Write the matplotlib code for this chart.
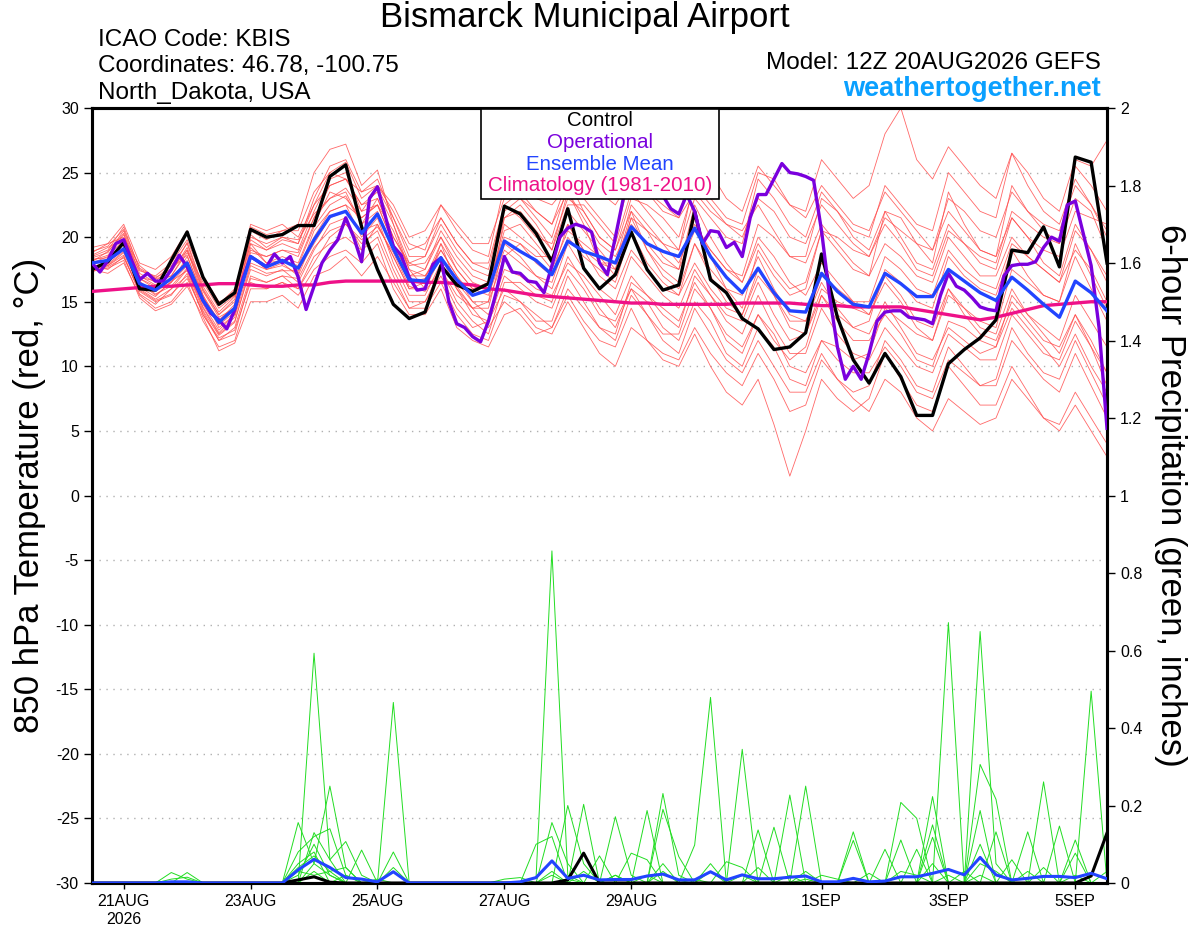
import numpy as np
import pandas as pd
import matplotlib
matplotlib.use("Agg")
from matplotlib import pyplot as plt
from matplotlib.patches import Rectangle

plt.rcParams['font.family'] = ['Liberation Sans', 'DejaVu Sans']
plt.rcParams['axes.unicode_minus'] = False

# ---- data (6-hourly from 12Z 20AUG2026 unless noted) ----
control_t = [17.5, 18.1, 19.6, 16.0, 15.9, 18.2, 20.4, 16.9, 14.8, 15.7, 20.6, 20.0, 20.2,
             20.9, 20.9, 24.7, 25.6, 20.8, 17.5, 14.8, 13.7, 14.2, 17.8, 16.3, 15.8, 16.4,
             22.4, 21.8, 20.3, 18.1, 22.2, 17.6, 16.0, 17.1, 20.4, 17.5, 15.9, 16.3, 22.0,
             16.7, 15.7, 13.7, 12.9, 11.3, 11.5, 12.6, 18.7, 13.8, 10.5, 8.7, 11.0, 9.2,
             6.2, 6.2, 10.2, 11.3, 12.2, 13.6, 19.0, 18.8, 20.8, 17.7, 26.2, 25.8, 18.0]

# operational run is 3-hourly
oper_t = [18.0, 17.3, 18.2, 19.5, 19.8, 18.2, 16.7, 17.2, 16.6, 16.6, 17.5, 18.6, 17.7,
          16.4, 15.1, 14.1, 13.6, 12.9, 14.4, 16.7, 18.5, 18.1, 17.7, 18.7, 18.0, 18.5,
          16.9, 14.4, 16.2, 18.0, 19.0, 19.8, 21.5, 20.0, 18.1, 23.0, 23.9, 21.6, 19.3,
          18.6, 16.9, 15.9, 16.0, 17.9, 18.4, 15.0, 13.3, 13.0, 12.3, 11.9, 13.5, 15.8,
          18.5, 17.3, 17.2, 16.6, 16.5, 15.7, 17.8, 20.0, 20.7, 21.0, 20.8, 20.4, 18.0,
          17.1, 20.0, 23.0, 24.8, 25.5, 25.0, 24.0, 23.2, 22.2, 21.8, 23.3, 22.0, 19.5,
          20.5, 20.4, 19.2, 19.6, 18.5, 21.5, 23.3, 23.3, 24.5, 25.7, 25.0, 24.9, 24.7,
          24.4, 20.5, 15.5, 11.5, 9.0, 10.0, 9.0, 11.0, 13.5, 14.2, 14.3, 14.3, 13.8,
          13.7, 13.6, 13.3, 15.5, 17.2, 16.2, 15.9, 15.3, 14.6, 14.4, 14.3, 17.0, 17.8,
          17.9, 17.9, 18.1, 19.2, 20.0, 19.7, 22.5, 22.8, 20.3, 17.8, 13.0, 5.2]

mean_t = [18.0, 18.2, 19.1, 16.4, 15.9, 16.8, 18.0, 15.1, 13.4, 14.5, 18.5, 17.7, 18.2,
          17.6, 19.8, 21.6, 22.0, 20.3, 21.8, 19.1, 16.7, 16.6, 18.4, 16.7, 15.5, 15.9,
          19.7, 18.9, 18.2, 17.1, 19.7, 18.9, 18.5, 18.0, 20.8, 19.5, 18.9, 18.5, 20.7,
          18.5, 16.9, 15.7, 17.6, 15.7, 14.3, 14.2, 17.2, 15.8, 14.8, 14.6, 17.2, 16.4,
          15.4, 15.4, 17.5, 16.6, 15.7, 15.1, 16.9, 15.9, 14.8, 13.8, 16.6, 15.7, 14.3]

clim_t = [15.8, 15.9, 16.0, 16.1, 16.2, 16.2, 16.3, 16.3, 16.4, 16.4, 16.3, 16.2, 16.2,
          16.3, 16.3, 16.5, 16.6, 16.6, 16.6, 16.6, 16.6, 16.5, 16.5, 16.4, 16.3, 16.0,
          15.9, 15.7, 15.5, 15.4, 15.3, 15.2, 15.1, 15.0, 14.9, 14.9, 14.8, 14.8, 14.8,
          14.8, 14.8, 14.9, 14.9, 14.9, 14.9, 14.8, 14.7, 14.7, 14.6, 14.6, 14.6, 14.6,
          14.4, 14.2, 14.0, 13.8, 13.6, 13.8, 14.1, 14.4, 14.7, 14.8, 14.9, 15.0, 15.0]

member_t = [
    [18.5, 19.0, 20.8, 17.5, 16.8, 17.8, 19.5, 16.0, 14.0, 15.0, 20.8, 20.2, 20.5, 21.0, 25.0, 26.8, 27.2, 24.0, 25.2, 21.0, 17.5, 16.0, 19.5, 16.2, 14.5, 15.0, 21.5, 22.5, 21.0, 19.0, 23.5, 21.0, 18.0, 17.5, 22.0, 19.0, 17.5, 16.5, 21.5, 18.5, 16.0, 14.5, 19.0, 17.0, 15.5, 16.0, 20.5, 19.0, 17.5, 17.0, 22.0, 21.5, 19.5, 18.0, 23.5, 21.0, 19.0, 18.5, 24.0, 22.0, 20.5, 19.5, 25.5, 24.0, 22.0],
    [17.8, 17.5, 18.5, 15.8, 15.0, 15.5, 17.2, 14.0, 12.0, 13.0, 17.0, 16.5, 17.0, 16.0, 18.0, 20.0, 21.0, 19.5, 20.5, 17.5, 15.0, 15.0, 17.0, 14.5, 13.0, 13.5, 16.0, 15.0, 14.0, 13.0, 15.5, 13.5, 12.0, 11.5, 14.5, 12.0, 11.0, 10.5, 13.0, 11.0, 9.5, 8.5, 11.0, 9.0, 6.5, 7.0, 10.5, 9.0, 8.0, 8.5, 12.0, 10.5, 8.5, 8.0, 11.5, 10.0, 8.5, 9.0, 13.0, 11.0, 9.5, 9.0, 12.0, 9.5, 7.0],
    [18.2, 18.6, 20.2, 16.8, 16.0, 17.5, 19.0, 15.5, 13.0, 14.0, 19.0, 18.5, 19.0, 18.8, 21.5, 24.0, 24.5, 22.5, 23.5, 21.0, 18.0, 17.5, 20.5, 18.5, 17.0, 16.5, 22.0, 23.0, 21.5, 20.0, 24.0, 23.0, 21.5, 20.0, 25.0, 23.5, 22.0, 21.5, 26.5, 25.0, 23.0, 22.0, 25.5, 24.0, 22.5, 22.0, 26.0, 24.5, 23.0, 24.0, 28.0, 30.0, 26.0, 24.5, 27.0, 25.5, 24.0, 23.0, 26.5, 25.0, 23.0, 22.0, 26.0, 25.5, 27.5],
    [17.5, 17.2, 18.0, 15.5, 14.5, 15.0, 16.5, 13.5, 11.5, 12.0, 16.0, 16.0, 16.5, 15.5, 17.5, 18.5, 19.0, 18.0, 19.5, 16.0, 14.0, 14.0, 16.0, 13.0, 12.0, 11.5, 14.0, 14.5, 13.0, 12.5, 15.0, 13.0, 11.0, 10.0, 13.0, 12.0, 10.5, 10.0, 12.5, 10.0, 8.0, 7.0, 9.0, 5.5, 1.5, 5.0, 9.0, 7.5, 6.5, 7.5, 11.0, 9.0, 7.0, 6.5, 10.0, 8.5, 7.0, 7.0, 10.0, 8.0, 6.0, 5.5, 8.0, 6.0, 4.0],
    [18.8, 19.5, 21.0, 18.0, 17.5, 18.5, 20.5, 17.0, 15.0, 15.5, 21.0, 20.5, 21.0, 20.0, 22.5, 25.0, 25.8, 23.0, 24.0, 22.0, 19.5, 19.0, 22.5, 20.5, 19.0, 18.5, 24.0, 23.0, 22.0, 21.0, 23.5, 21.5, 19.5, 18.5, 21.0, 19.5, 18.0, 17.5, 20.5, 19.0, 17.5, 17.0, 21.0, 20.0, 18.5, 18.5, 23.0, 22.0, 20.5, 20.0, 24.0, 22.5, 21.0, 20.5, 25.0, 23.5, 22.0, 21.5, 26.5, 24.0, 22.0, 21.0, 24.5, 22.5, 20.0],
    [17.6, 18.0, 19.2, 16.2, 15.8, 16.5, 17.8, 14.8, 12.8, 14.0, 18.5, 17.5, 18.0, 17.0, 20.0, 22.0, 22.5, 20.0, 21.5, 18.0, 15.5, 15.5, 18.0, 16.0, 14.5, 14.5, 19.5, 18.5, 17.0, 16.0, 19.5, 17.5, 16.0, 15.0, 18.5, 17.0, 15.5, 14.5, 17.5, 15.5, 13.5, 12.5, 15.5, 13.0, 11.0, 11.0, 14.5, 12.5, 11.0, 10.5, 13.0, 11.5, 10.0, 9.5, 12.5, 11.5, 10.5, 10.5, 14.0, 12.5, 11.0, 10.5, 13.5, 11.5, 9.5],
    [18.0, 18.5, 19.8, 16.5, 15.5, 16.5, 18.5, 15.5, 13.5, 14.8, 19.5, 18.0, 18.5, 18.0, 21.0, 23.5, 23.0, 21.5, 22.5, 20.5, 17.5, 17.0, 19.0, 17.0, 15.5, 16.0, 20.5, 21.0, 19.5, 18.0, 22.0, 20.5, 19.0, 17.5, 21.5, 19.0, 17.0, 16.0, 19.5, 17.5, 16.0, 15.5, 18.5, 16.0, 14.0, 13.5, 17.0, 16.0, 15.0, 15.0, 18.5, 17.5, 16.0, 15.5, 19.0, 17.5, 16.5, 16.0, 19.5, 18.5, 17.5, 16.5, 20.5, 19.0, 16.5],
    [17.3, 17.8, 18.8, 16.0, 15.2, 16.0, 17.5, 14.5, 12.5, 13.5, 17.5, 17.0, 17.5, 16.5, 19.0, 21.0, 21.5, 19.0, 20.0, 17.0, 14.5, 14.5, 16.5, 14.0, 12.5, 12.0, 15.5, 15.0, 13.5, 13.5, 17.0, 15.0, 13.0, 12.0, 15.5, 14.0, 12.5, 12.5, 16.0, 14.5, 12.5, 11.5, 14.0, 12.0, 10.5, 11.5, 15.5, 14.0, 13.0, 13.5, 17.5, 16.5, 15.0, 14.5, 18.5, 17.0, 16.0, 15.5, 19.0, 17.0, 15.5, 15.0, 18.5, 16.0, 13.5],
    [18.4, 18.8, 20.5, 17.2, 16.5, 17.0, 19.0, 15.8, 13.8, 14.5, 20.0, 19.5, 20.0, 19.5, 23.0, 25.5, 26.0, 23.5, 24.5, 21.5, 18.5, 18.5, 21.0, 19.0, 17.5, 17.0, 21.5, 22.0, 20.5, 19.0, 22.5, 22.5, 21.0, 19.5, 23.5, 22.0, 20.5, 19.0, 23.0, 21.5, 20.0, 19.5, 24.5, 23.0, 21.0, 20.0, 23.5, 22.0, 20.0, 19.0, 22.0, 20.0, 18.0, 17.5, 21.0, 19.5, 18.0, 17.5, 21.5, 20.0, 18.0, 17.0, 21.0, 19.0, 17.0],
    [17.7, 17.8, 18.6, 15.6, 14.8, 16.0, 17.0, 14.0, 12.2, 12.8, 16.5, 16.0, 16.5, 16.0, 18.5, 19.5, 20.0, 19.0, 21.0, 18.5, 16.0, 16.0, 18.5, 16.5, 15.0, 14.0, 17.5, 17.0, 16.0, 15.5, 18.0, 17.0, 15.5, 14.0, 17.0, 15.5, 14.5, 13.5, 16.5, 14.5, 12.0, 11.0, 14.0, 12.5, 10.0, 9.5, 12.0, 10.5, 9.5, 9.5, 11.5, 10.0, 8.0, 7.5, 10.5, 9.5, 8.5, 8.5, 12.0, 10.5, 9.0, 8.0, 11.0, 8.5, 6.0],
    [19.2, 19.5, 20.0, 17.8, 16.8, 17.0, 18.8, 16.5, 14.5, 15.5, 19.8, 19.0, 19.5, 19.0, 22.0, 24.5, 25.0, 22.0, 22.5, 19.5, 17.0, 17.5, 20.0, 17.5, 16.0, 16.5, 20.0, 19.5, 18.5, 18.5, 21.0, 19.0, 18.0, 18.0, 22.5, 21.0, 19.5, 19.0, 24.5, 23.0, 21.5, 21.0, 25.0, 24.5, 22.5, 21.5, 24.0, 22.5, 21.0, 20.5, 23.5, 22.0, 20.5, 19.0, 22.0, 20.5, 19.0, 18.5, 21.5, 20.0, 19.0, 18.5, 22.0, 21.5, 21.0],
    [17.9, 18.3, 19.5, 16.8, 16.2, 16.8, 18.2, 15.2, 13.2, 14.2, 18.8, 18.5, 19.0, 18.5, 21.5, 23.0, 23.5, 21.0, 22.0, 19.0, 16.5, 16.8, 19.5, 17.5, 16.0, 15.5, 19.0, 18.0, 17.0, 16.5, 20.0, 18.5, 17.5, 16.5, 20.5, 18.0, 16.5, 15.5, 18.0, 16.0, 14.5, 14.0, 17.5, 15.5, 13.5, 13.5, 16.5, 14.5, 13.0, 12.5, 15.0, 13.0, 11.0, 10.5, 13.0, 12.0, 11.0, 11.5, 15.5, 14.0, 13.0, 12.0, 15.5, 13.5, 11.5],
    [18.1, 18.9, 20.3, 17.0, 16.3, 17.3, 19.2, 15.9, 14.0, 15.2, 19.5, 19.0, 19.8, 19.5, 22.5, 24.0, 24.5, 22.5, 23.0, 20.0, 18.0, 18.5, 21.5, 19.5, 18.0, 17.5, 22.5, 23.5, 22.0, 21.0, 24.5, 22.0, 20.0, 19.0, 22.0, 20.5, 19.5, 18.0, 21.0, 19.0, 17.5, 16.5, 19.5, 17.5, 16.0, 16.5, 20.5, 20.0, 19.0, 18.5, 21.0, 19.5, 17.5, 17.0, 20.5, 19.5, 18.5, 18.0, 22.0, 21.0, 20.0, 19.5, 23.0, 22.0, 19.0],
    [17.4, 17.6, 18.2, 15.3, 14.3, 14.8, 16.2, 13.8, 11.2, 11.8, 15.0, 15.0, 15.5, 14.5, 17.0, 17.5, 18.5, 17.0, 18.5, 16.5, 14.5, 15.0, 17.5, 15.5, 14.5, 13.0, 15.0, 14.0, 12.5, 13.0, 16.0, 14.5, 13.0, 12.5, 16.5, 15.5, 14.0, 13.0, 17.0, 15.5, 14.0, 13.5, 16.5, 14.0, 12.0, 12.5, 16.0, 15.0, 14.5, 14.0, 17.0, 15.5, 13.5, 13.0, 16.0, 14.0, 12.5, 12.0, 15.0, 13.5, 12.0, 11.5, 14.0, 12.0, 9.5],
    [18.6, 19.2, 19.9, 17.4, 17.0, 18.0, 19.8, 16.8, 14.8, 16.0, 20.5, 19.8, 20.5, 20.5, 23.5, 25.0, 24.5, 23.5, 24.0, 22.5, 20.0, 20.5, 22.5, 21.0, 19.5, 19.5, 23.0, 24.0, 23.0, 22.5, 24.0, 24.5, 23.5, 22.5, 24.5, 23.5, 22.5, 21.5, 23.5, 22.0, 21.0, 20.5, 22.5, 20.5, 18.5, 18.0, 21.0, 19.5, 18.0, 17.0, 19.5, 18.5, 17.0, 16.5, 20.0, 18.5, 17.0, 17.0, 20.0, 18.5, 17.5, 16.5, 19.0, 17.5, 15.0],
    [17.7, 18.1, 19.0, 16.6, 15.6, 16.2, 17.6, 14.6, 12.6, 13.8, 18.0, 17.5, 17.8, 17.2, 20.5, 22.0, 22.5, 21.5, 22.5, 19.5, 17.0, 17.0, 18.5, 16.0, 14.0, 13.5, 17.0, 16.0, 15.0, 14.5, 17.5, 16.0, 14.0, 13.5, 16.0, 14.0, 12.0, 11.0, 14.5, 12.5, 10.5, 9.5, 12.0, 10.0, 8.0, 8.0, 11.0, 9.0, 7.5, 6.5, 9.0, 8.0, 6.0, 5.0, 7.5, 6.5, 5.5, 6.0, 9.0, 7.5, 6.0, 5.0, 7.0, 5.0, 3.0],
    [18.3, 18.4, 19.4, 16.9, 16.6, 17.6, 18.6, 15.3, 13.6, 14.6, 19.2, 18.0, 18.2, 17.8, 20.8, 22.5, 23.2, 21.0, 23.0, 20.0, 17.8, 18.0, 20.0, 18.0, 16.5, 16.0, 21.0, 20.0, 19.0, 17.5, 20.5, 19.5, 18.5, 17.0, 21.5, 20.5, 18.5, 17.5, 22.5, 20.0, 18.0, 16.5, 20.0, 18.5, 16.5, 15.5, 18.0, 16.5, 15.0, 14.0, 16.5, 15.0, 13.0, 12.0, 15.5, 14.5, 13.5, 13.0, 17.5, 16.5, 15.5, 15.0, 19.5, 17.0, 14.5],
    [17.6, 17.9, 18.9, 16.1, 15.4, 16.6, 17.4, 14.3, 12.4, 13.4, 17.8, 17.2, 17.4, 17.4, 19.5, 21.5, 22.0, 20.5, 21.0, 18.5, 16.0, 16.5, 19.0, 17.0, 15.0, 15.0, 18.5, 19.5, 18.0, 17.0, 21.0, 19.0, 17.0, 16.0, 19.0, 17.5, 16.0, 15.5, 19.5, 17.0, 15.0, 14.0, 17.0, 15.5, 13.0, 12.5, 15.5, 13.5, 12.0, 12.0, 14.0, 12.5, 10.5, 10.0, 13.5, 13.0, 12.0, 11.5, 14.5, 13.0, 11.5, 10.0, 12.5, 10.0, 8.0],
    [18.9, 19.3, 20.6, 17.6, 16.9, 17.4, 19.6, 16.2, 14.2, 15.4, 20.2, 19.2, 20.0, 19.8, 21.8, 23.0, 23.8, 22.0, 23.8, 21.5, 19.0, 19.5, 21.5, 19.5, 18.0, 18.0, 22.5, 21.5, 20.0, 19.5, 23.0, 22.0, 20.0, 19.0, 23.0, 22.5, 21.5, 20.0, 24.0, 22.5, 21.0, 20.0, 23.0, 22.0, 20.0, 19.5, 22.5, 21.0, 19.5, 18.5, 21.5, 20.5, 19.5, 19.0, 23.0, 22.0, 20.5, 20.0, 23.5, 22.0, 21.0, 20.5, 24.0, 22.5, 20.5],
    [17.5, 17.7, 18.4, 15.9, 15.1, 15.6, 16.8, 14.2, 12.0, 12.5, 16.8, 16.5, 17.0, 16.8, 19.2, 20.5, 21.0, 19.8, 20.8, 18.8, 16.2, 15.8, 17.5, 15.0, 13.5, 12.5, 16.5, 16.5, 15.5, 15.0, 18.5, 16.5, 14.5, 13.0, 16.0, 15.0, 13.0, 12.0, 15.0, 13.5, 11.0, 10.0, 13.0, 11.5, 9.0, 8.5, 12.0, 11.5, 10.5, 11.0, 14.5, 13.5, 12.5, 12.0, 16.0, 14.5, 13.0, 12.5, 16.0, 14.0, 12.5, 11.0, 14.0, 11.5, 8.5],
]

# 6-hour precipitation (inches); members given as {step: amount}, other steps are 0
control_p = {13: 0.008, 14: 0.016, 15: 0.002, 30: 0.008, 31: 0.077, 63: 0.018, 64: 0.129}
mean_p = {5: 0.003, 6: 0.003, 13: 0.034, 14: 0.061, 15: 0.04, 16: 0.014, 17: 0.01, 18: 0.003,
          19: 0.029, 27: 0.003, 28: 0.014, 29: 0.057, 30: 0.012, 31: 0.02, 32: 0.008,
          33: 0.009, 34: 0.009, 35: 0.018, 36: 0.023, 37: 0.008, 38: 0.008, 39: 0.029,
          40: 0.008, 41: 0.021, 42: 0.011, 43: 0.011, 44: 0.015, 45: 0.018, 46: 0.003,
          47: 0.003, 48: 0.012, 49: 0.003, 50: 0.005, 51: 0.016, 52: 0.016, 53: 0.025,
          54: 0.035, 55: 0.021, 56: 0.066, 57: 0.021, 58: 0.008, 59: 0.012, 60: 0.017,
          61: 0.017, 62: 0.014, 63: 0.025, 64: 0.011}
member_p = [
    {14: 0.593, 15: 0.06, 28: 0.014, 29: 0.857, 30: 0.02, 39: 0.05, 54: 0.672, 62: 0.02},
    {13: 0.156, 14: 0.05, 15: 0.25, 16: 0.04, 19: 0.466, 33: 0.171, 34: 0.02, 41: 0.345, 56: 0.649, 57: 0.05},
    {5: 0.027, 6: 0.01, 13: 0.08, 14: 0.12, 15: 0.14, 16: 0.02, 29: 0.156, 30: 0.05, 36: 0.231,
     37: 0.02, 45: 0.25, 53: 0.223, 56: 0.306, 57: 0.216, 60: 0.261},
    {6: 0.027, 14: 0.13, 15: 0.06, 16: 0.107, 17: 0.02, 28: 0.10, 29: 0.12, 31: 0.203, 35: 0.187,
     44: 0.227, 48: 0.132, 51: 0.208, 52: 0.167, 56: 0.187, 63: 0.495},
    {13: 0.05, 14: 0.08, 17: 0.085, 19: 0.08, 30: 0.2, 31: 0.05, 33: 0.02, 38: 0.098, 39: 0.479,
     42: 0.137, 51: 0.111, 53: 0.118, 59: 0.132, 61: 0.147},
    {13: 0.03, 14: 0.02, 15: 0.03, 16: 0.04, 19: 0.04, 32: 0.07, 36: 0.19, 37: 0.068, 43: 0.144,
     48: 0.11, 50: 0.087, 53: 0.15, 57: 0.132, 62: 0.111},
    {14: 0.05, 15: 0.02, 26: 0.01, 27: 0.014, 29: 0.03, 34: 0.077, 35: 0.06, 40: 0.055, 41: 0.04,
     45: 0.03, 49: 0.025, 52: 0.087, 56: 0.10, 58: 0.06, 62: 0.077},
    {5: 0.01, 6: 0.015, 13: 0.02, 14: 0.1, 15: 0.02, 29: 0.02, 33: 0.02, 36: 0.05, 39: 0.03,
     42: 0.04, 46: 0.02, 47: 0.01, 53: 0.05, 55: 0.03, 64: 0.03},
    {14: 0.03, 16: 0.02, 31: 0.03, 35: 0.02, 38: 0.01, 44: 0.02, 54: 0.02, 56: 0.05, 57: 0.03, 60: 0.04},
    {13: 0.04, 14: 0.07, 15: 0.03, 18: 0.01, 30: 0.01, 36: 0.03, 41: 0.02, 45: 0.01, 51: 0.03,
     52: 0.02, 56: 0.02, 59: 0.03},
]

tick_days = ['2026-08-21', '2026-08-23', '2026-08-25', '2026-08-27', '2026-08-29',
             '2026-09-01', '2026-09-03', '2026-09-05']
tick_labels = ['21AUG\n2026', '23AUG', '25AUG', '27AUG', '29AUG', '1SEP', '3SEP', '5SEP']

times6 = pd.date_range('2026-08-20 12:00', periods=len(control_t), freq='6h')
times3 = pd.date_range('2026-08-20 12:00', periods=len(oper_t), freq='3h')


def sparse_to_series(d):
    vals = np.zeros(len(times6))
    for k, v in d.items():
        vals[k] = v
    return vals


def t2p(t):
    # temperature (-30..30) mapped onto the precip axis (0..2)
    return (np.array(t) + 30) / 30


RED = '#ff4d4d'
GREEN = '#22dd22'
PURPLE = '#7a00dd'
BLUE = '#2244ff'
MAGENTA = '#ee1188'

fig = plt.figure(figsize=(12, 9.27), dpi=100)
ax = fig.add_axes([92 / 1200, 1 - 883 / 927, (1107 - 92) / 1200, (883 - 108) / 927])
ax2 = ax.twinx()

# precipitation on the right axis
for m in member_p:
    ax2.plot(times6, sparse_to_series(m), color=GREEN, lw=0.7, zorder=2)
ax2.plot(times6, sparse_to_series(control_p), color='black', lw=2.2, zorder=3)
ax2.plot(times6, sparse_to_series(mean_p), color=BLUE, lw=2.2, zorder=4)
ax2.set_ylim(0, 2)
ax2.set_yticks(np.arange(0, 2.01, 0.2))
ax2.set_yticklabels(['0', '0.2', '0.4', '0.6', '0.8', '1', '1.2', '1.4', '1.6', '1.8', '2'])

# temperature lines (drawn on the twin axis so they sit above the grid)
for m in member_t:
    ax2.plot(times6, t2p(m), color=RED, lw=0.6, alpha=0.85, zorder=1)
ax2.plot(times6, t2p(clim_t), color=MAGENTA, lw=2.4, zorder=5)
ax2.plot(times6, t2p(control_t), color='black', lw=2.4, zorder=6)
ax2.plot(times3, t2p(oper_t), color=PURPLE, lw=2.4, zorder=7)
ax2.plot(times6, t2p(mean_t), color=BLUE, lw=2.4, zorder=8)

ax.set_ylim(-30, 30)
ax.set_yticks(np.arange(-30, 31, 5))
ax.set_xlim(times6[0], times6[-1])
ax.set_xticks(pd.to_datetime(tick_days))
ax.set_xticklabels(tick_labels)
for y in range(-25, 30, 5):
    ax.axhline(y, color='#b0b0b0', lw=1.0, ls=(0, (1, 4)), zorder=0)

for a in (ax, ax2):
    for s in a.spines.values():
        s.set_linewidth(2.2)
ax.tick_params(axis='y', labelsize=11.5, length=6, width=1)
ax2.tick_params(axis='y', labelsize=11.5, length=6, width=1)
ax.tick_params(axis='x', labelsize=11.5, length=4, width=1, pad=4)
for lbl in ax.get_xticklabels():
    lbl.set_multialignment('center')

# legend box, on top of the lines
ax2.add_patch(Rectangle((481 / 1200, 1 - 199 / 927), 238 / 1200, 90 / 927,
                        transform=fig.transFigure, facecolor='white', clip_on=False,
                        edgecolor='black', lw=1.2, zorder=20))
leg_items = [('Control', 'black'), ('Operational', PURPLE),
             ('Ensemble Mean', BLUE), ('Climatology (1981-2010)', MAGENTA)]
for k, (txt, col) in enumerate(leg_items):
    ax2.text(600 / 1200, 1 - (121 + k * 21.5) / 927, txt, color=col, fontsize=14.8,
             ha='center', va='center', transform=fig.transFigure, zorder=21)

# header texts
fig.text(585 / 1200, 1 - 18 / 927, 'Bismarck Municipal Airport', fontsize=25,
         ha='center', va='center')
fig.text(98 / 1200, 1 - 40 / 927, 'ICAO Code: KBIS', fontsize=17.5, va='center')
fig.text(98 / 1200, 1 - 66 / 927, 'Coordinates: 46.78, -100.75', fontsize=17.5, va='center')
fig.text(98 / 1200, 1 - 93 / 927, 'North_Dakota, USA', fontsize=17.5, va='center')
fig.text(1101 / 1200, 1 - 63 / 927, 'Model: 12Z 20AUG2026 GEFS', fontsize=17.5,
         ha='right', va='center')
fig.text(1101 / 1200, 1 - 89 / 927, 'weathertogether.net', fontsize=19.5, weight='bold',
         color='#0aa0ff', ha='right', va='center')

fig.text(30 / 1200, 1 - 495 / 927, '850 hPa Temperature (red, \u00b0C)', fontsize=25,
         rotation=90, ha='center', va='center')
fig.text(1170 / 1200, 1 - 495 / 927, '6-hour Precipitation (green, inches)', fontsize=25,
         rotation=270, ha='center', va='center')

fig.savefig('out.png', dpi=100)
